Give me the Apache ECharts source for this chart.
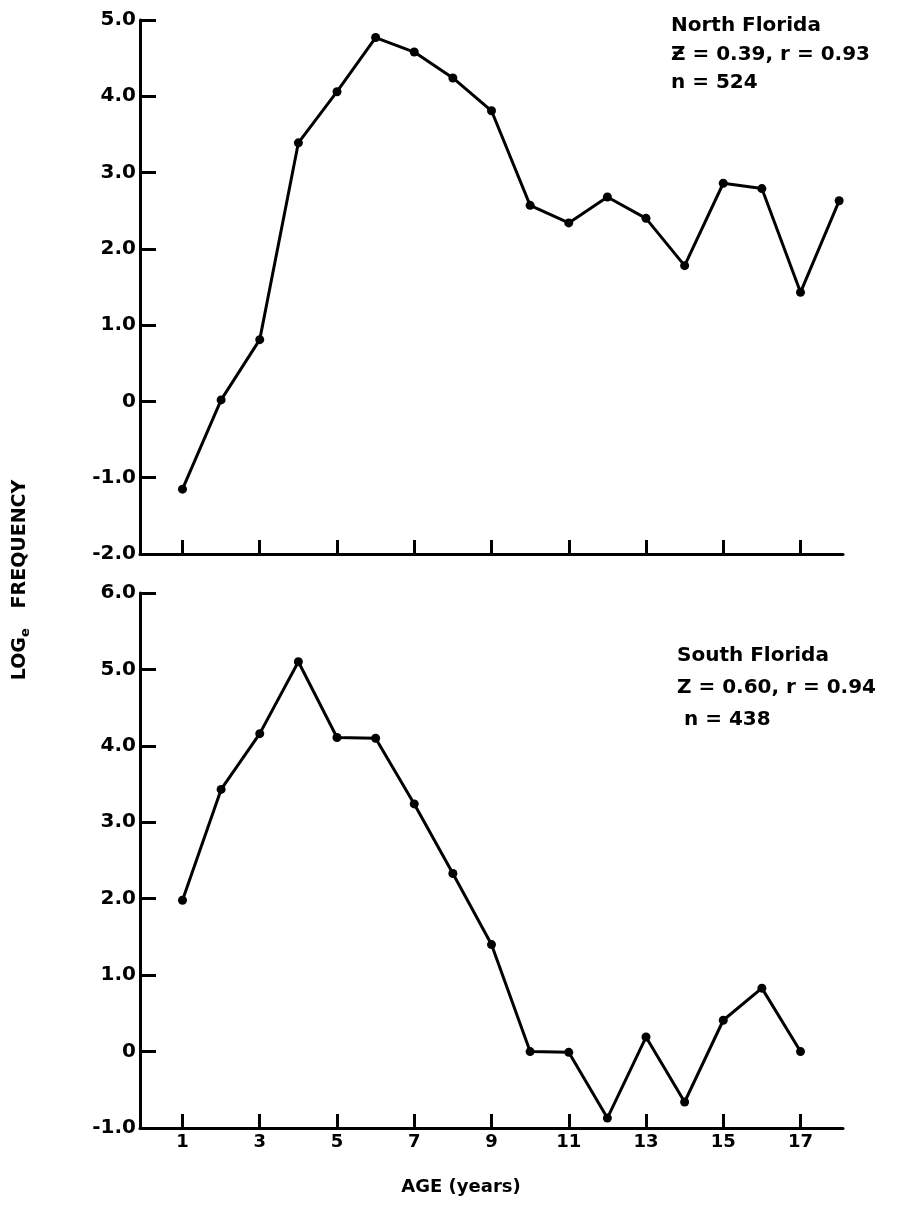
<!DOCTYPE html>
<html>
<head>
<meta charset="utf-8">
<script src="https://cdn.jsdelivr.net/npm/echarts@6/dist/echarts.min.js"></script>
<style>
html,body{margin:0;padding:0;background:#fff;}
#chart{width:904px;height:1214px;}
</style>
</head>
<body>
<div id="chart"></div>
<script>
// ---- data ----
var northAges = [1,2,3,4,5,6,7,8,9,10,11,12,13,14,15,16,17,18];
var northLogFreq = [-1.15,0.02,0.81,3.39,4.06,4.77,4.58,4.24,3.81,2.57,2.34,2.68,2.40,1.78,2.86,2.79,1.43,2.63];
var southAges = [1,2,3,4,5,6,7,8,9,10,11,12,13,14,15,16,17];
var southLogFreq = [1.98,3.43,4.16,5.10,4.11,4.10,3.24,2.33,1.40,0.00,-0.01,-0.87,0.19,-0.66,0.41,0.83,0.00];
var ageTicks = [1,3,5,7,9,11,13,15,17];
var northNote = ['North Florida','\u01B5 = 0.39, r = 0.93','n = 524'];
var southNote = ['South Florida','Z = 0.60, r = 0.94',' n = 438'];
var xTitle = 'AGE (years)';

function pairs(xs, ys){ return xs.map(function(x,i){ return [x, ys[i]]; }); }

var FONT = 'DejaVu Sans';
var axisLineStyle = {color:'#000', width:3};
function yLabel(v){ return v === 0 ? '0' : v.toFixed(1); }

var chart = echarts.init(document.getElementById('chart'), null, {renderer:'canvas'});
var option = {
  backgroundColor:'#fff',
  animation:false,
  grid:[
    {left:140, right:61, top:20, bottom:660},
    {left:140, right:61, top:593, bottom:86}
  ],
  xAxis:[
    {gridIndex:0, type:'value', min:-0.1, max:18.1,
     axisLine:{show:true, onZero:false, lineStyle:axisLineStyle},
     axisTick:{show:true, inside:true, length:14, customValues:ageTicks, lineStyle:axisLineStyle},
     axisLabel:{show:false},
     splitLine:{show:false}},
    {gridIndex:1, type:'value', min:-0.1, max:18.1,
     axisLine:{show:true, onZero:false, lineStyle:axisLineStyle},
     axisTick:{show:true, inside:true, length:14, customValues:ageTicks, lineStyle:axisLineStyle},
     axisLabel:{show:true, customValues:ageTicks, margin:5, color:'#000', fontFamily:FONT, fontWeight:'bold', fontSize:18},
     splitLine:{show:false}}
  ],
  yAxis:[
    {gridIndex:0, type:'value', min:-2, max:5, interval:1,
     axisLine:{show:true, onZero:false, lineStyle:axisLineStyle},
     axisTick:{show:true, inside:true, length:16, lineStyle:axisLineStyle},
     axisLabel:{show:true, margin:4, color:'#000', fontFamily:FONT, fontWeight:'bold', fontSize:20, formatter:yLabel},
     splitLine:{show:false}},
    {gridIndex:1, type:'value', min:-1, max:6, interval:1,
     axisLine:{show:true, onZero:false, lineStyle:axisLineStyle},
     axisTick:{show:true, inside:true, length:16, lineStyle:axisLineStyle},
     axisLabel:{show:true, margin:4, color:'#000', fontFamily:FONT, fontWeight:'bold', fontSize:20, formatter:yLabel},
     splitLine:{show:false}}
  ],
  series:[
    {type:'line', xAxisIndex:0, yAxisIndex:0, data:pairs(northAges, northLogFreq),
     symbol:'circle', symbolSize:9, itemStyle:{color:'#000'}, lineStyle:{color:'#000', width:3}},
    {type:'line', xAxisIndex:1, yAxisIndex:1, data:pairs(southAges, southLogFreq),
     symbol:'circle', symbolSize:9, itemStyle:{color:'#000'}, lineStyle:{color:'#000', width:3}}
  ],
  graphic:[
    {type:'text', left:671, top:12, style:{text:northNote.join('\n'), fontFamily:FONT, fontWeight:'bold', fontSize:20, lineHeight:28.5, fill:'#000'}},
    {type:'text', left:677, top:640, style:{text:southNote.join('\n'), fontFamily:FONT, fontWeight:'bold', fontSize:20, lineHeight:32, fill:'#000'}},
    {type:'text', x:461, y:1187, style:{text:xTitle, fontFamily:FONT, fontWeight:'bold', fontSize:18, fill:'#000', align:'center', verticalAlign:'middle'}},
    {type:'text', x:20, y:580, rotation:Math.PI/2,
     style:{text:'{a|LOG}{s|e}{a|   FREQUENCY}', align:'center', verticalAlign:'middle',
       rich:{a:{fontFamily:FONT, fontWeight:'bold', fontSize:19, fill:'#000'},
             s:{fontFamily:FONT, fontWeight:'bold', fontSize:13, fill:'#000', padding:[12,0,0,0]}}}}
  ]
};
chart.setOption(option);
</script>
</body>
</html>
